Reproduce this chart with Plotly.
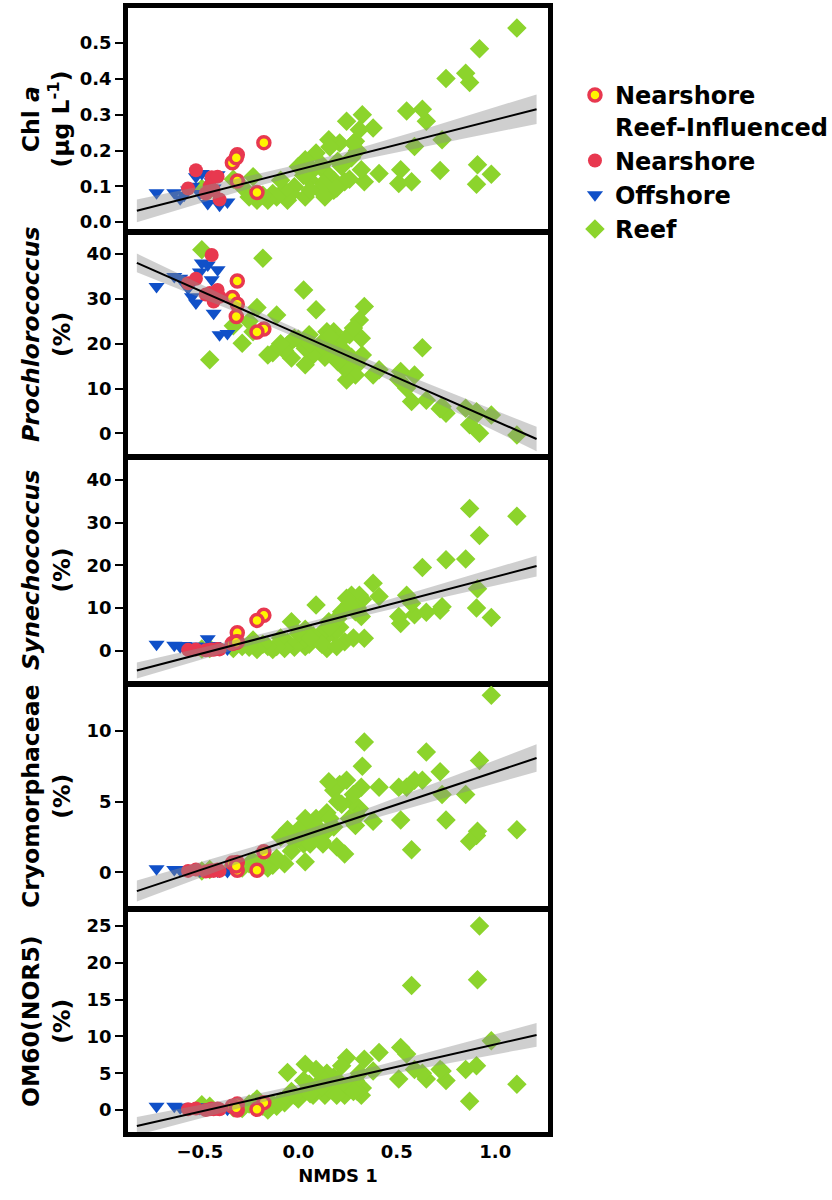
import numpy as np
import plotly.graph_objects as go
from plotly.subplots import make_subplots

# ---------------- data ----------------
# NMDS axis 1 score for every sample, by site class
nri_x = [-0.175, -0.21, -0.31, -0.335, -0.31, -0.315]
near_x = [-0.56, -0.52, -0.47, -0.45, -0.44, -0.43, -0.41, -0.40]
off_x = [-0.72, -0.63, -0.60, -0.58, -0.56, -0.54, -0.52, -0.50, -0.49,
         -0.46, -0.44, -0.43, -0.41, -0.40, -0.36]
reef_x = [1.11, 0.98, 0.92, 0.91, 0.905, 0.87, 0.85, 0.75, 0.73, 0.72,
          0.65, 0.63, 0.59, 0.575, 0.55, 0.52, 0.51, 0.41, 0.38, 0.335,
          0.325, 0.32, 0.31, 0.30, 0.29, 0.27, 0.245, 0.235, 0.22, 0.21,
          0.18, 0.18, 0.155, 0.145, 0.135, 0.125, 0.11, 0.09, 0.075, 0.055,
          0.035, 0.035, 0.027, 0.0, -0.02, -0.035, -0.055, -0.07, -0.09, -0.11,
          -0.13, -0.155, -0.18, -0.21, -0.23, -0.285, -0.33, -0.45, -0.49,
          0.20, 0.16, 0.12, 0.06, 0.26, -0.25, 0.28, 0.195]

# Chl a (ug/L)
chl_nri = [0.222, 0.083, 0.188, 0.166, 0.115, 0.180]
chl_near = [0.094, 0.145, 0.08, 0.10, 0.125, 0.09, 0.127, 0.063]
chl_off = [0.082, 0.082, 0.065, 0.075, 0.09, 0.10, 0.127, 0.08, 0.136,
           0.052, 0.113, 0.095, 0.132, 0.047, 0.056]
chl_reef = [0.542, 0.134, 0.484, 0.16, 0.106, 0.39, 0.416, 0.401, 0.23, 0.144,
            0.282, 0.315, 0.211, 0.113, 0.31, 0.146, 0.108, 0.136, 0.263, 0.113,
            0.30, 0.146, 0.258, 0.20, 0.226, 0.18, 0.282, 0.113, 0.155, 0.221,
            0.117, 0.089, 0.23, 0.136, 0.07, 0.108, 0.089, 0.193, 0.146, 0.12,
            0.174, 0.07, 0.13, 0.155, 0.099, 0.08, 0.061, 0.09, 0.117, 0.07,
            0.08, 0.061, 0.075, 0.061, 0.127, 0.099, 0.12, 0.09, 0.094,
            0.17, 0.21, 0.16, 0.09, 0.12, 0.07, 0.22, 0.095]

# Prochlorococcus (%)
pro_nri = [23.3, 22.6, 34.0, 30.3, 28.8, 26.1]
pro_near = [33.5, 34.5, 31.0, 31.3, 39.8, 29.4, 32.0, 30.5]
pro_off = [32.8, 35.0, 34.6, 33.5, 32.4, 30.5, 29.1, 36.0, 38.0,
           37.6, 34.3, 26.8, 36.5, 22.0, 22.3]
pro_reef = [-0.4, 4.1, 0.0, 4.5, 4.8, 1.9, 5.6, 4.5, 6.0, 5.5,
            7.4, 19.1, 13.0, 7.1, 10.1, 13.8, 12.0, 14.2, 13.0, 28.3,
            17.5, 21.2, 25.3, 15.3, 13.0, 17.0, 11.9, 14.5, 19.0, 20.5,
            18.2, 22.7, 20.0, 22.7, 17.0, 20.5, 18.5, 27.6, 17.5, 22.0,
            15.3, 19.0, 32.0, 21.0, 21.2, 16.8, 19.7, 18.5, 20.0, 26.4,
            18.0, 17.5, 39.1, 28.1, 22.7, 20.1, 24.0, 16.4, 41.0,
            16.0, 21.5, 19.5, 20.0, 22.0, 25.0, 23.5, 16.5]

# Synechococcus (%)
syn_nri = [8.3, 7.1, 4.2, 1.7, 2.1, 2.0]
syn_near = [0.2, 0.3, 0.1, 0.2, 0.3, 0.2, 0.4, 0.3]
syn_off = [1.5, 1.3, 0.9, 1.2, 0.8, 1.0, 1.1, 0.7, 0.9,
           2.8, 1.0, 1.2, 0.8, 0.6, 0.4]
syn_reef = [31.5, 7.8, 27.0, 14.5, 10.0, 33.3, 21.5, 21.3, 10.3, 9.5,
            9.0, 19.5, 8.4, 11.1, 13.0, 6.4, 8.0, 12.7, 15.8, 2.9,
            12.0, 8.0, 13.0, 10.0, 9.1, 13.0, 12.3, 2.1, 9.1, 5.5,
            6.8, 4.0, 6.8, 0.5, 3.0, 4.5, 2.0, 10.7, 3.5, 1.5,
            5.0, 1.0, 2.5, 4.0, 0.8, 6.8, 2.0, 0.5, 3.0, 1.0,
            0.3, 1.0, 1.5, 0.3, 2.5, 1.0, 0.5, 0.5, 0.4,
            7.5, 5.5, 1.5, 3.0, 11.0, 0.8, 3.0, 1.0]

# Cryomorphaceae (%)
cry_nri = [1.45, 0.15, 0.15, 0.65, 0.7, 0.45]
cry_near = [0.1, 0.2, 0.05, 0.1, 0.15, 0.1, 0.2, 0.1]
cry_off = [0.25, 0.2, 0.15, 0.2, 0.15, 0.2, 0.2, 0.1, 0.15,
           0.2, 0.15, 0.15, 0.1, 0.1, 0.05]
cry_reef = [3.0, 12.5, 7.9, 2.9, 2.6, 2.2, 5.5, 3.7, 5.5, 7.1,
            8.5, 6.5, 6.5, 1.6, 6.0, 3.7, 6.0, 6.0, 3.6, 9.2,
            7.5, 6.0, 4.5, 4.0, 3.3, 5.0, 6.5, 1.3, 4.8, 6.2,
            3.2, 5.8, 6.4, 4.2, 2.8, 2.0, 3.0, 3.8, 2.5, 3.0,
            3.8, 0.75, 2.0, 3.0, 2.2, 1.5, 3.0, 0.6, 2.5, 1.0,
            0.5, 0.3, 0.5, 0.3, 0.8, 0.3, 0.5, 0.2, 0.1,
            5.0, 3.8, 2.2, 2.0, 3.8, 0.6, 5.5, 1.8]

# OM60(NOR5) (%)
om_nri = [1.0, 0.1, 0.0, 0.5, 0.8, 0.3]
om_near = [0.1, 0.2, 0.0, 0.1, 0.2, 0.1, 0.2, 0.1]
om_off = [0.5, 0.5, 0.3, 0.4, 0.3, 0.4, 0.4, 0.2, 0.3,
          0.4, 0.3, 0.3, 0.2, 0.2, 0.1]
om_reef = [3.5, 9.4, 25.0, 17.7, 6.0, 1.2, 5.5, 4.0, 5.3, 5.5,
           4.2, 5.0, 5.5, 16.9, 7.6, 8.5, 4.2, 7.8, 5.3, 6.9,
           3.0, 2.0, 5.0, 2.5, 4.0, 3.5, 7.1, 2.0, 6.0, 3.0,
           2.5, 4.5, 3.5, 5.0, 2.0, 4.2, 3.0, 5.5, 2.0, 3.5,
           6.2, 2.5, 4.0, 1.5, 2.0, 2.5, 5.1, 1.0, 1.2, 0.5,
           0.8, 0.0, 0.5, 1.5, 1.0, 0.2, 0.3, 0.5, 0.7,
           4.0, 2.8, 3.2, 2.2, 3.0, 0.8, 2.5, 2.0]

panel_titles = ["Chl <i>a</i><br>(µg L<sup>-1</sup>)",
                "<i>Prochlorococcus</i><br>(%)",
                "<i>Synechococcus</i><br>(%)",
                "Cryomorphaceae<br>(%)",
                "OM60(NOR5)<br>(%)"]
panel_data = [
    (chl_nri, chl_near, chl_off, chl_reef),
    (pro_nri, pro_near, pro_off, pro_reef),
    (syn_nri, syn_near, syn_off, syn_reef),
    (cry_nri, cry_near, cry_off, cry_reef),
    (om_nri, om_near, om_off, om_reef),
]
y_ranges = [[-0.022, 0.598], [-4.85, 44.5], [-7.33, 44.9], [-2.45, 13.16], [-2.99, 27.04]]
y_ticks = [[0.0, 0.1, 0.2, 0.3, 0.4, 0.5], [0, 10, 20, 30, 40], [0, 10, 20, 30, 40],
           [0, 5, 10], [0, 5, 10, 15, 20, 25]]
x_ticks = [-0.5, 0.0, 0.5, 1.0]

# ---------------- styling ----------------
FONT = "DejaVu Sans"
RED = "#E8384F"
YELLOW = "#FFF500"
BLUE = "#1050C8"
GREEN = "#8CD42C"

W, H = 832, 1200
top_px, bot_px = 8, 1132
panel_px = [(8, 230), (234, 455), (459, 682), (686, 907), (911, 1132)]
title_shift_px = [0, -10, 0, 0, 0]
span = bot_px - top_px
plot_left, plot_right = 127.5, 548

fig = make_subplots(rows=5, cols=1, shared_xaxes=True, vertical_spacing=0.004)

groups = [
    ("Nearshore<br>Reef-Influenced", nri_x,
     dict(symbol="circle", size=12, color=YELLOW, line=dict(color=RED, width=3.5))),
    ("Nearshore", near_x, dict(symbol="circle", size=14, color=RED, line=dict(width=0))),
    ("Offshore", off_x, dict(symbol="triangle-down", size=14, color=BLUE, line=dict(width=0))),
    ("Reef", reef_x, dict(symbol="diamond", size=15, color=GREEN, line=dict(width=0))),
]
draw_order = [3, 2, 1, 0]  # reef underneath, reef-influenced nearshore on top

all_x = np.array(nri_x + near_x + off_x + reef_x)

for p, ys in enumerate(panel_data):
    row = p + 1
    for gi in draw_order:
        name, gx, mk = groups[gi]
        fig.add_trace(go.Scatter(
            x=gx, y=ys[gi], mode="markers", name=name, marker=mk,
            legendgroup=f"g{gi}", showlegend=(p == 0), legendrank=gi + 1,
        ), row=row, col=1)

    # least-squares fit with 95% confidence band
    ally = np.array(ys[0] + ys[1] + ys[2] + ys[3])
    n = len(all_x)
    b1, b0 = np.polyfit(all_x, ally, 1)
    resid = ally - (b0 + b1 * all_x)
    s = np.sqrt(np.sum(resid ** 2) / (n - 2))
    xbar = all_x.mean()
    sxx = np.sum((all_x - xbar) ** 2)
    xg = np.linspace(all_x.min() - 0.1, all_x.max() + 0.1, 120)
    yg = b0 + b1 * xg
    half = 1.99 * s * np.sqrt(1.0 / n + (xg - xbar) ** 2 / sxx)
    fig.add_trace(go.Scatter(x=xg, y=yg + half, mode="lines", line=dict(width=0),
                             hoverinfo="skip", showlegend=False), row=row, col=1)
    fig.add_trace(go.Scatter(x=xg, y=yg - half, mode="lines", line=dict(width=0),
                             fill="tonexty", fillcolor="rgba(140,140,140,0.42)",
                             hoverinfo="skip", showlegend=False), row=row, col=1)
    fig.add_trace(go.Scatter(x=xg, y=yg, mode="lines", line=dict(color="black", width=2),
                             hoverinfo="skip", showlegend=False), row=row, col=1)

    t, b = panel_px[p]
    dom = [(bot_px - b) / span, (bot_px - t) / span]
    yname = "yaxis" if p == 0 else f"yaxis{row}"
    fig.layout[yname].update(
        domain=dom, range=y_ranges[p], tickvals=y_ticks[p],
        tickformat=".1f" if p == 0 else "d",
        showline=True, mirror=True, linecolor="black", linewidth=4.5,
        ticks="outside", ticklen=8, tickwidth=1.5, tickcolor="black",
        showgrid=False, zeroline=False,
        tickfont=dict(family=FONT, size=18, color="black", weight="bold"),
    )
    xname = "xaxis" if p == 0 else f"xaxis{row}"
    fig.layout[xname].update(
        range=[-0.865, 1.268], tickvals=x_ticks, tickformat=".1f",
        showline=True, mirror=True, linecolor="black", linewidth=4.5,
        showgrid=False, zeroline=False, ticks="",
        showticklabels=(p == 4), ticklabelstandoff=0,
        tickfont=dict(family=FONT, size=18, color="black", weight="bold"),
    )
    fig.add_annotation(
        text=panel_titles[p], textangle=-90, xref="paper", yref="paper",
        x=(46 - plot_left) / (plot_right - plot_left),
        y=(dom[0] + dom[1]) / 2 - title_shift_px[p] / span,
        xanchor="center", yanchor="middle", showarrow=False,
        font=dict(family=FONT, size=23.5, color="black", weight="bold"),
    )

fig.layout["xaxis5"].update(
    title=dict(text="NMDS 1", standoff=10,
               font=dict(family=FONT, size=18, color="black", weight="bold")))

fig.update_layout(
    width=W, height=H,
    margin=dict(l=plot_left, r=W - plot_right, t=top_px, b=H - bot_px, autoexpand=False),
    paper_bgcolor="white", plot_bgcolor="white",
    legend=dict(x=(575 - plot_left) / (plot_right - plot_left), y=(bot_px - 73) / span,
                xanchor="left", yanchor="top", traceorder="normal", valign="top",
                font=dict(family=FONT, size=24, color="black", weight="bold"),
                bgcolor="rgba(0,0,0,0)", tracegroupgap=3, itemsizing="trace"),
)

fig.write_html("out.html")
